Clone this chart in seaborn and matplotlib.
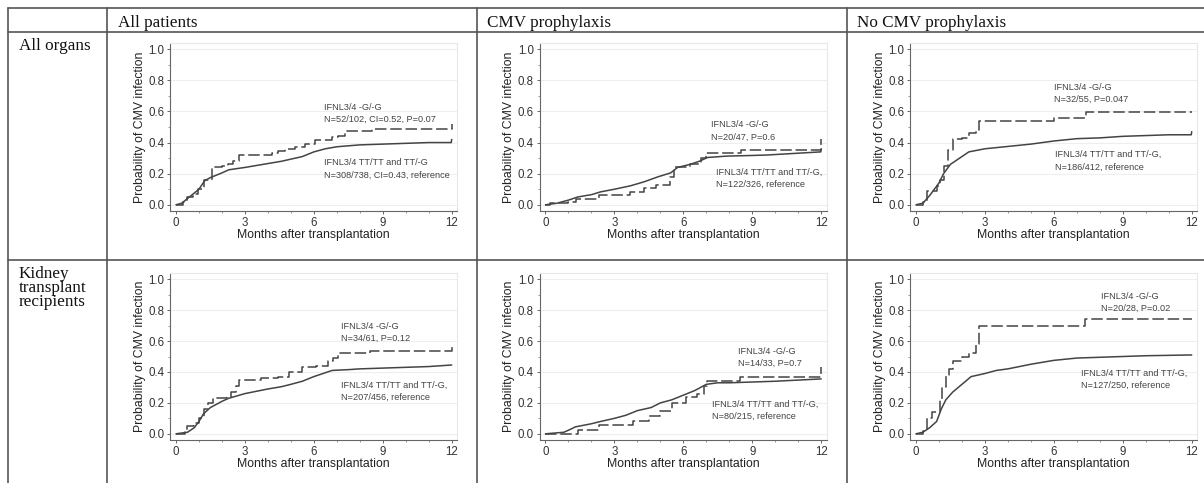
import matplotlib
matplotlib.use("Agg")
import matplotlib.pyplot as plt
from matplotlib.lines import Line2D
from matplotlib.ticker import MultipleLocator, FormatStrFormatter
import pandas as pd
import seaborn as sns

# --- data (months, cumulative probability) ---
# row 1: all organs
p1_gg_t = [0, 0.3, 0.46, 0.75, 0.97, 1.23, 1.55, 2.0, 2.28, 2.5, 2.74, 4.17, 4.45, 4.75, 5.18, 5.6, 6.05, 6.8, 7.07, 7.36, 8.52, 12.0]
p1_gg_v = [0, 0.02, 0.05, 0.07, 0.10, 0.16, 0.24, 0.25, 0.26, 0.28, 0.32, 0.33, 0.345, 0.36, 0.37, 0.39, 0.415, 0.435, 0.44, 0.475, 0.484, 0.52]
p1_ref_t = [0, 0.25, 0.5, 0.75, 1.0, 1.25, 1.5, 2.0, 2.3, 3.0, 4.0, 4.6, 5.5, 6.0, 6.5, 7.0, 8.0, 9.0, 10.0, 11.0, 11.98, 12.0]
p1_ref_v = [0, 0.01, 0.04, 0.07, 0.10, 0.155, 0.175, 0.205, 0.225, 0.24, 0.265, 0.28, 0.31, 0.34, 0.36, 0.373, 0.385, 0.39, 0.395, 0.40, 0.40, 0.42]

p2_gg_t = [0, 0.2, 1.0, 1.35, 2.35, 3.7, 4.3, 4.8, 5.4, 5.6, 6.3, 6.75, 7.0, 8.5, 12.0]
p2_gg_v = [0, 0.01, 0.02, 0.04, 0.06, 0.08, 0.11, 0.13, 0.18, 0.245, 0.265, 0.30, 0.33, 0.355, 0.425]
p2_ref_t = [0, 0.5, 1.0, 1.4, 2.0, 2.4, 3.0, 3.7, 4.3, 4.9, 5.45, 5.75, 6.3, 6.7, 7.05, 7.9, 9.0, 9.65, 11.98, 12.0]
p2_ref_v = [0, 0.01, 0.03, 0.05, 0.065, 0.083, 0.10, 0.122, 0.148, 0.18, 0.205, 0.24, 0.26, 0.28, 0.304, 0.313, 0.317, 0.32, 0.34, 0.36]

p3_gg_t = [0, 0.3, 0.5, 0.9, 1.05, 1.2, 1.4, 1.6, 2.0, 2.3, 2.6, 2.75, 6.0, 7.4, 12.0]
p3_gg_v = [0, 0.02, 0.09, 0.12, 0.16, 0.25, 0.35, 0.42, 0.43, 0.46, 0.48, 0.54, 0.56, 0.595, 0.595]
p3_ref_t = [0, 0.3, 0.6, 1.0, 1.2, 1.5, 2.0, 2.3, 3.0, 4.0, 5.0, 6.0, 7.0, 8.0, 9.0, 10.0, 11.0, 11.98, 12.0]
p3_ref_v = [0, 0.01, 0.06, 0.14, 0.20, 0.26, 0.31, 0.34, 0.36, 0.375, 0.39, 0.41, 0.425, 0.43, 0.44, 0.445, 0.45, 0.45, 0.47]

# row 2: kidney transplant recipients
p4_gg_t = [0, 0.4, 0.5, 0.8, 1.0, 1.2, 1.4, 1.6, 2.2, 2.4, 2.6, 2.75, 3.7, 4.45, 4.9, 5.5, 6.1, 6.63, 6.85, 7.07, 8.45, 12.0]
p4_gg_v = [0, 0.01, 0.05, 0.07, 0.10, 0.16, 0.20, 0.23, 0.24, 0.27, 0.31, 0.345, 0.36, 0.37, 0.40, 0.43, 0.44, 0.47, 0.49, 0.52, 0.535, 0.56]
p4_ref_t = [0, 0.5, 0.8, 1.0, 1.2, 1.5, 2.0, 2.3, 3.0, 4.0, 4.6, 5.0, 5.5, 6.0, 6.8, 7.5, 8.0, 9.0, 10.0, 11.0, 12.0]
p4_ref_v = [0, 0.01, 0.04, 0.08, 0.13, 0.17, 0.21, 0.23, 0.26, 0.29, 0.305, 0.32, 0.34, 0.37, 0.41, 0.415, 0.42, 0.425, 0.43, 0.435, 0.445]

p5_gg_t = [0, 1.4, 2.35, 3.8, 4.5, 5.0, 5.5, 6.1, 6.6, 6.9, 7.05, 8.45, 12.0]
p5_gg_v = [0, 0.025, 0.055, 0.085, 0.115, 0.145, 0.20, 0.24, 0.26, 0.31, 0.34, 0.365, 0.43]
p5_ref_t = [0, 0.8, 1.1, 1.3, 2.0, 2.4, 3.0, 3.5, 4.0, 4.6, 5.0, 5.5, 6.0, 6.5, 7.0, 7.5, 8.0, 9.0, 10.0, 12.0]
p5_ref_v = [0, 0.01, 0.03, 0.045, 0.065, 0.08, 0.10, 0.12, 0.15, 0.17, 0.20, 0.22, 0.25, 0.28, 0.32, 0.33, 0.33, 0.335, 0.34, 0.355]

p6_gg_t = [0, 0.3, 0.5, 0.7, 1.05, 1.15, 1.3, 1.45, 1.6, 2.0, 2.3, 2.6, 2.75, 7.36, 12.0]
p6_gg_v = [0, 0.02, 0.10, 0.14, 0.22, 0.30, 0.38, 0.42, 0.47, 0.50, 0.52, 0.58, 0.70, 0.74, 0.74]
p6_ref_t = [0, 0.3, 0.6, 0.9, 1.1, 1.3, 1.6, 2.0, 2.4, 3.0, 3.5, 4.0, 5.0, 6.0, 7.0, 8.0, 9.0, 10.0, 12.0]
p6_ref_v = [0, 0.01, 0.04, 0.08, 0.16, 0.22, 0.27, 0.32, 0.37, 0.39, 0.41, 0.42, 0.45, 0.475, 0.49, 0.495, 0.50, 0.505, 0.51]

col_titles = ["All patients", "CMV prophylaxis", "No CMV prophylaxis"]
row_titles = [["All organs"], ["Kidney", "transplant", "recipients"]]

gg_labels = ["IFNL3/4 -G/-G\nN=52/102, CI=0.52, P=0.07",
             "IFNL3/4 -G/-G\nN=20/47, P=0.6",
             "IFNL3/4 -G/-G\nN=32/55, P=0.047",
             "IFNL3/4 -G/-G\nN=34/61, P=0.12",
             "IFNL3/4 -G/-G\nN=14/33, P=0.7",
             "IFNL3/4 -G/-G\nN=20/28, P=0.02"]
ref_labels = ["IFNL3/4 TT/TT and TT/-G\nN=308/738, CI=0.43, reference",
              "IFNL3/4 TT/TT and TT/-G,\nN=122/326, reference",
              "IFNL3/4 TT/TT and TT/-G,\nN=186/412, reference",
              "IFNL3/4 TT/TT and TT/-G,\nN=207/456, reference",
              "IFNL3/4 TT/TT and TT/-G,\nN=80/215, reference",
              "IFNL3/4 TT/TT and TT/-G,\nN=127/250, reference"]
# label anchor (month, probability at centre of the two-line block)
gg_pos = [(6.45, 0.588), (7.2, 0.474), (6.0, 0.715), (7.2, 0.657), (8.4, 0.495), (8.05, 0.848)]
ref_pos = [(6.45, 0.23), (7.4, 0.171), (6.05, 0.283), (7.2, 0.275), (7.25, 0.154), (7.2, 0.355)]

gg_curves = [(p1_gg_t, p1_gg_v), (p2_gg_t, p2_gg_v), (p3_gg_t, p3_gg_v),
             (p4_gg_t, p4_gg_v), (p5_gg_t, p5_gg_v), (p6_gg_t, p6_gg_v)]
ref_curves = [(p1_ref_t, p1_ref_v), (p2_ref_t, p2_ref_v), (p3_ref_t, p3_ref_v),
              (p4_ref_t, p4_ref_v), (p5_ref_t, p5_ref_v), (p6_ref_t, p6_ref_v)]

sns.set_style("ticks")
plt.rcParams['font.family'] = ['Liberation Sans', 'DejaVu Sans']

W, H = 1204, 483
fig = plt.figure(figsize=(W / 100, H / 100), dpi=100)


def fx(px):
    return px / W


def fy(py):
    return 1 - py / H


# table grid
line_col = '#555555'
for y in [8.3, 31.7, 260]:
    fig.add_artist(Line2D([fx(8.3), 1], [fy(y), fy(y)], color=line_col, lw=1.2))
for x in [8.3, 107.3, 476.7, 846.7]:
    fig.add_artist(Line2D([fx(x), fx(x)], [fy(8.3), 0], color=line_col, lw=1.2))

serif = ['Liberation Serif', 'DejaVu Serif']
for x, title in zip([118, 487, 857], col_titles):
    fig.text(fx(x), fy(26.7), title, family=serif, fontsize=12.3, va='baseline', color='#111111')
for y0, lines in zip([50, 277.7], row_titles):
    for i, s in enumerate(lines):
        fig.text(fx(19), fy(y0 + 14 * i), s, family=serif, fontsize=12.3, va='baseline', color='#111111')

col_left = [170, 539.5, 910]
row_bottom = [211, 440]
row_height = [168, 167]
ink = '#444444'

for k in range(6):
    r, c = divmod(k, 3)
    ax = fig.add_axes([fx(col_left[c]), fy(row_bottom[r]), 287 / W, row_height[r] / H])

    ref = pd.DataFrame({'months': ref_curves[k][0], 'prob': ref_curves[k][1]})
    gg = pd.DataFrame({'months': gg_curves[k][0], 'prob': gg_curves[k][1]})
    sns.lineplot(data=ref, x='months', y='prob', ax=ax, color=ink, lw=1.1,
                 estimator=None, sort=False)
    sns.lineplot(data=gg, x='months', y='prob', ax=ax, color=ink, lw=1.1,
                 estimator=None, sort=False, drawstyle='steps-post',
                 linestyle=(0, (7.5, 2.5)))

    ax.set_xlim(-0.26, 12.23)
    ax.set_ylim(-0.04, 1.04)
    ax.xaxis.set_major_locator(MultipleLocator(3))
    ax.xaxis.set_minor_locator(MultipleLocator(1))
    ax.yaxis.set_major_locator(MultipleLocator(0.2))
    ax.yaxis.set_minor_locator(MultipleLocator(0.1))
    ax.yaxis.set_major_formatter(FormatStrFormatter('%.1f'))
    ax.yaxis.grid(True, which='major', color='#eeeeee', lw=0.8)
    ax.set_axisbelow(True)

    for side in ['left', 'bottom']:
        ax.spines[side].set_color('#666666')
        ax.spines[side].set_linewidth(0.8)
    for side in ['top', 'right']:
        ax.spines[side].set_visible(True)
        ax.spines[side].set_color('#e8e8e8')
        ax.spines[side].set_linewidth(0.8)

    ax.tick_params(which='major', length=2.5, width=0.7, color='#666666',
                   labelsize=8.3, labelcolor='#333333', pad=1.5)
    ax.tick_params(which='minor', length=1.5, width=0.6, color='#888888')

    ax.set_xlabel('Months after transplantation', fontsize=8.8, color='#222222', labelpad=0)
    ax.set_ylabel('Probability of CMV infection', fontsize=8.8, color='#222222', labelpad=2)

    ax.text(gg_pos[k][0], gg_pos[k][1], gg_labels[k], fontsize=6.6, color=ink,
            va='center', linespacing=1.45)
    ax.text(ref_pos[k][0], ref_pos[k][1], ref_labels[k], fontsize=6.6, color=ink,
            va='center', linespacing=1.45)

fig.savefig('out.png', dpi=100)
